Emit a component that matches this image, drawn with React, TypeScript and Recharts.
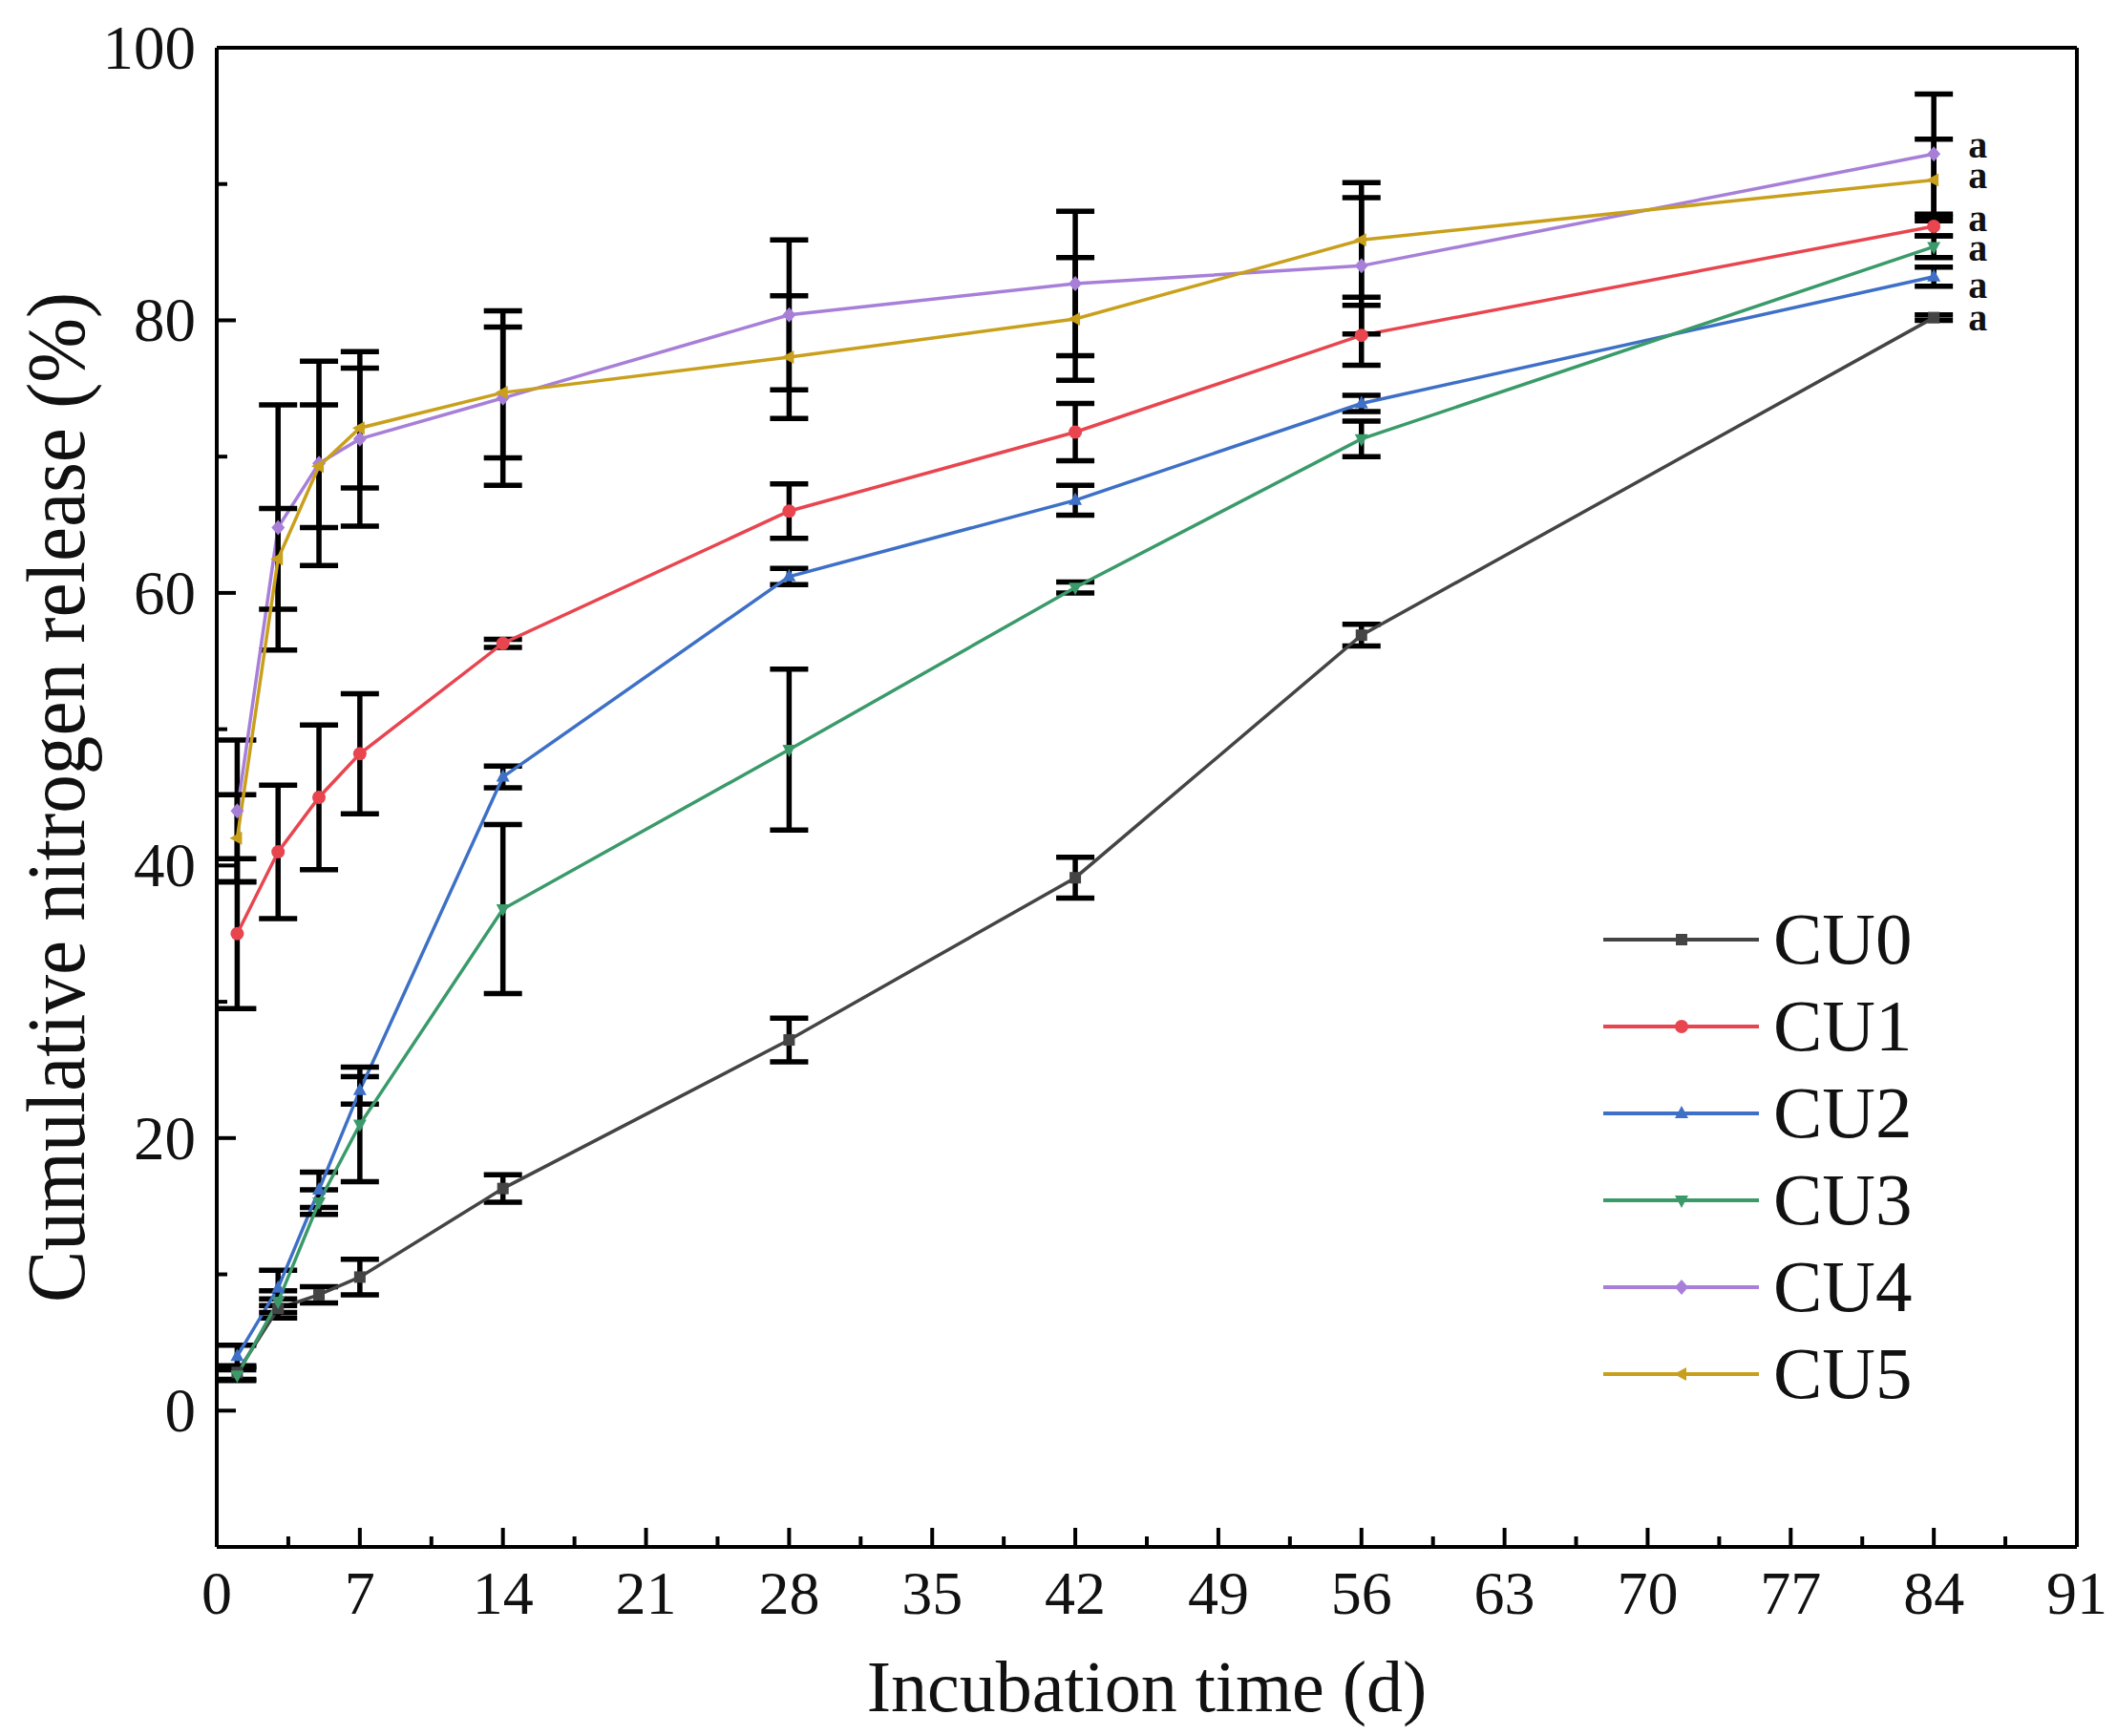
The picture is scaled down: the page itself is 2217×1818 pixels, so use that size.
import React from "react";
import { ComposedChart, Line, XAxis, YAxis, ErrorBar, ReferenceLine, Legend, Label } from "recharts";

// incubation days
const days = [1, 3, 5, 7, 14, 28, 42, 56, 84];

// cumulative N release (%) and error (±)
const cu0 = [2.8, 7.5, 8.5, 9.8, 16.3, 27.2, 39.1, 56.9, 80.2];
const cu0Err = [0.5, 0.7, 0.6, 1.3, 1.0, 1.6, 1.5, 0.8, 0.2];
const cu1 = [35.0, 41.0, 45.0, 48.2, 56.3, 66.0, 71.8, 78.9, 86.9];
const cu1Err = [5.5, 4.9, 5.3, 4.4, 0.3, 2.0, 2.1, 2.2, 0.7];
const cu2 = [4.0, 9.0, 16.2, 23.5, 46.5, 61.2, 66.8, 73.9, 83.2];
const cu2Err = [0.8, 1.3, 1.3, 1.0, 0.8, 0.6, 1.1, 0.6, 0.7];
const cu3 = [2.6, 8.0, 15.3, 21.0, 36.8, 48.5, 60.4, 71.3, 85.4];
const cu3Err = [0.4, 0.8, 0.9, 4.2, 6.2, 5.9, 0.4, 1.3, 0.8];
const cu4 = [44.0, 64.8, 69.5, 71.3, 74.3, 80.4, 82.7, 84.0, 92.2];
const cu4Err = [5.2, 9.0, 7.5, 6.4, 6.4, 5.5, 5.3, 5.0, 4.4];
const cu5 = [42.0, 62.5, 69.3, 72.1, 74.7, 77.3, 80.1, 85.9, 90.3];
const cu5Err = [3.2, 3.7, 4.5, 4.4, 4.8, 4.5, 4.5, 4.2, 3.0];

// significance letters at day 84
const sigLetters = ["a", "a", "a", "a", "a", "a"];

const xTicks = [0, 3.5, 7, 10.5, 14, 17.5, 21, 24.5, 28, 31.5, 35, 38.5, 42, 45.5, 49, 52.5, 56, 59.5, 63, 66.5, 70, 73.5, 77, 80.5, 84, 87.5, 91];
const xLabels = [0, 7, 14, 21, 28, 35, 42, 49, 56, 63, 70, 77, 84, 91];
const yTicks = [0, 10, 20, 30, 40, 50, 60, 70, 80, 90, 100];
const yLabels = [0, 20, 40, 60, 80, 100];

const FONT = "'Liberation Serif', 'Times New Roman', serif";

const series = [
  { key: "CU0", values: cu0, errs: cu0Err, color: "#444444", marker: "square", labelDy: 0 },
  { key: "CU1", values: cu1, errs: cu1Err, color: "#e8454f", marker: "circle", labelDy: -8 },
  { key: "CU2", values: cu2, errs: cu2Err, color: "#3d70c6", marker: "up", labelDy: 9 },
  { key: "CU3", values: cu3, errs: cu3Err, color: "#3a9a6a", marker: "down", labelDy: 2 },
  { key: "CU4", values: cu4, errs: cu4Err, color: "#a77fd8", marker: "diamond", labelDy: -9 },
  { key: "CU5", values: cu5, errs: cu5Err, color: "#c9a01c", marker: "left", labelDy: -4 },
];

const rows = days.map((d, i) => {
  const r: Record<string, number> = { day: d };
  series.forEach((s) => {
    r[s.key] = s.values[i];
    r[s.key + "e"] = s.errs[i];
  });
  return r;
});

function Marker({ shape, cx, cy, color }: { shape: string; cx: number; cy: number; color: string }) {
  if (cx == null || cy == null) return null;
  switch (shape) {
    case "square":
      return <rect x={cx - 6} y={cy - 6} width={12} height={12} fill={color} />;
    case "circle":
      return <circle cx={cx} cy={cy} r={7} fill={color} />;
    case "up":
      return <polygon points={`${cx},${cy - 8} ${cx - 7},${cy + 5} ${cx + 7},${cy + 5}`} fill={color} />;
    case "down":
      return <polygon points={`${cx},${cy + 8} ${cx - 7},${cy - 5} ${cx + 7},${cy - 5}`} fill={color} />;
    case "diamond":
      return <polygon points={`${cx},${cy - 8} ${cx + 7},${cy} ${cx},${cy + 8} ${cx - 7},${cy}`} fill={color} />;
    default:
      return <polygon points={`${cx - 8},${cy} ${cx + 5},${cy - 7} ${cx + 5},${cy + 7}`} fill={color} />;
  }
}

function XTick(props: any) {
  const { x, y, payload } = props;
  const major = xLabels.includes(payload.value);
  return (
    <g>
      <line x1={x} x2={x} y1={y} y2={y - (major ? 20 : 11)} stroke="#000" strokeWidth={4} />
      {major && (
        <text x={x} y={y + 70} textAnchor="middle" fontSize={64} fontFamily={FONT} fill="#111">
          {payload.value}
        </text>
      )}
    </g>
  );
}

function YTick(props: any) {
  const { x, y, payload } = props;
  const major = yLabels.includes(payload.value);
  return (
    <g>
      <line x1={x} x2={x + (major ? 20 : 11)} y1={y} y2={y} stroke="#000" strokeWidth={4} />
      {major && (
        <text x={x - 22} y={y + 22} textAnchor="end" fontSize={65} fontFamily={FONT} fill="#111">
          {payload.value}
        </text>
      )}
    </g>
  );
}

function LegendBox() {
  return (
    <div style={{ fontFamily: FONT }}>
      {series.map((s) => (
        <div key={s.key} style={{ display: "flex", alignItems: "center", height: 91 }}>
          <svg width={170} height={30} style={{ display: "block" }}>
            <line x1={0} x2={163} y1={15} y2={15} stroke={s.color} strokeWidth={4} />
            <Marker shape={s.marker} cx={82} cy={15} color={s.color} />
          </svg>
          <span style={{ fontSize: 77, lineHeight: "91px", marginLeft: 8, color: "#111" }}>{s.key}</span>
        </div>
      ))}
    </div>
  );
}

export default function App() {
  const last = days.length - 1;
  return (
    <div style={{ position: "absolute", left: 0, top: 0, width: 2217, height: 1818, background: "#fff" }}>
      <ComposedChart width={2217} height={1818} data={rows} margin={{ top: 50, right: 42, left: 0, bottom: 0 }}>
        <XAxis
          dataKey="day"
          type="number"
          domain={[0, 91]}
          ticks={xTicks}
          interval={0}
          tickSize={0}
          tickMargin={0}
          tickLine={false}
          tick={<XTick />}
          height={198}
          axisLine={{ stroke: "#000", strokeWidth: 4 }}
        >
          <Label
            content={({ viewBox }: any) => (
              <text
                x={viewBox.x + viewBox.width / 2}
                y={1792}
                textAnchor="middle"
                fontSize={76}
                fontFamily={FONT}
                fill="#111"
              >
                Incubation time (d)
              </text>
            )}
          />
        </XAxis>
        <YAxis
          type="number"
          domain={[-10, 100]}
          ticks={yTicks}
          interval={0}
          tickSize={0}
          tickMargin={0}
          tickLine={false}
          tick={<YTick />}
          width={227}
          axisLine={{ stroke: "#000", strokeWidth: 4 }}
        >
          <Label
            content={({ viewBox }: any) => {
              const cy = viewBox.y + viewBox.height / 2;
              return (
                <text
                  x={88}
                  y={cy}
                  transform={`rotate(-90 88 ${cy})`}
                  textAnchor="middle"
                  fontSize={86}
                  fontFamily={FONT}
                  textLength={1058}
                  lengthAdjust="spacingAndGlyphs"
                  fill="#111"
                >
                  Cumulative nitrogen release (%)
                </text>
              );
            }}
          />
        </YAxis>
        <ReferenceLine y={100} stroke="#000" strokeWidth={4} />
        <ReferenceLine x={91} stroke="#000" strokeWidth={4} />
        {series.map((s, si) => (
          <Line
            key={s.key}
            dataKey={s.key}
            name={s.key}
            stroke={s.color}
            strokeWidth={3.5}
            isAnimationActive={false}
            dot={(p: any) => <Marker key={`${s.key}-${p.index}`} shape={s.marker} cx={p.cx} cy={p.cy} color={s.color} />}
            activeDot={false}
            label={(p: any) =>
              p.index === last ? (
                <text
                  key={`${s.key}-lbl`}
                  x={p.x + 36}
                  y={p.y + 13 + s.labelDy}
                  fontSize={40}
                  fontWeight="bold"
                  fontFamily={FONT}
                  fill="#111"
                >
                  {sigLetters[si]}
                </text>
              ) : (
                <g key={`${s.key}-lbl-${p.index}`} />
              )
            }
          >
            <ErrorBar dataKey={s.key + "e"} direction="y" width={20} stroke="#000" strokeWidth={5.5} />
          </Line>
        ))}
        <Legend
          layout="horizontal"
          verticalAlign="middle"
          align="center"
          wrapperStyle={{ position: "absolute", left: 1679, top: 938, width: 420, height: 560 }}
          content={() => <LegendBox />}
        />
      </ComposedChart>
    </div>
  );
}
